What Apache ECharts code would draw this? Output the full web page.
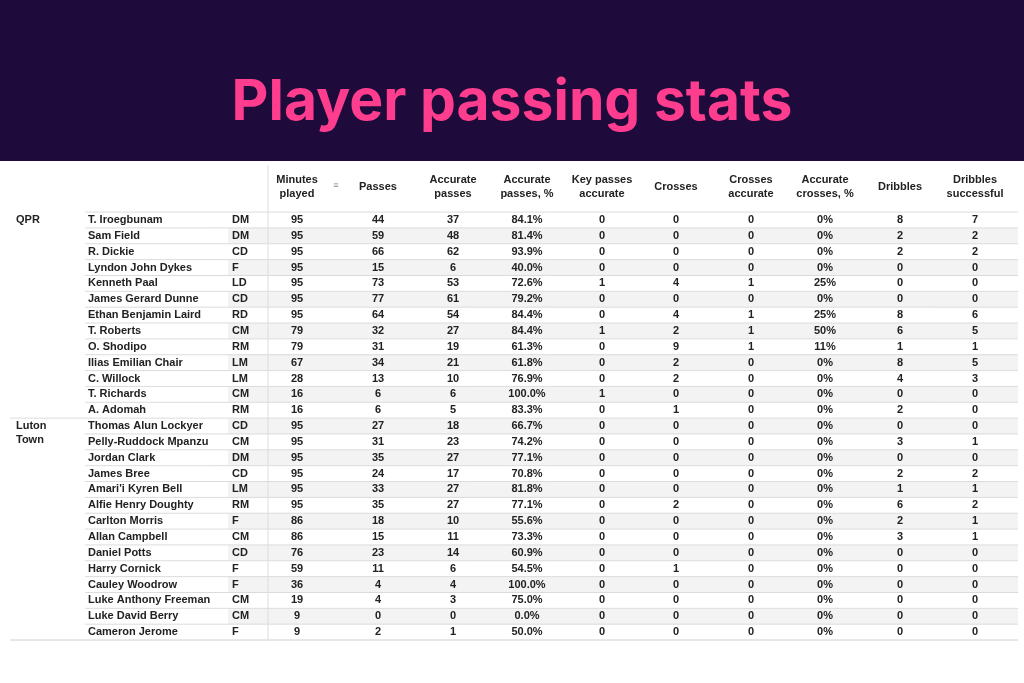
<!DOCTYPE html><html><head><meta charset="utf-8">
<script src="https://cdn.jsdelivr.net/npm/echarts@6/dist/echarts.min.js"></script>
<style>html,body{margin:0;padding:0;background:#fff}#c{width:1024px;height:683px}</style></head><body><div id="c"></div><script>
const title = "Player passing stats";
const headers = ["Minutes\nplayed","Passes","Accurate\npasses","Accurate\npasses, %","Key passes\naccurate","Crosses","Crosses\naccurate","Accurate\ncrosses, %","Dribbles","Dribbles\nsuccessful"];
const teams = [["QPR",0],["Luton\nTown",13]];
const players = ["T. Iroegbunam","Sam Field","R. Dickie","Lyndon John Dykes","Kenneth Paal","James Gerard Dunne","Ethan Benjamin Laird","T. Roberts","O. Shodipo","Ilias Emilian Chair","C. Willock","T. Richards","A. Adomah","Thomas Alun Lockyer","Pelly-Ruddock Mpanzu","Jordan Clark","James Bree","Amari'i Kyren Bell","Alfie Henry Doughty","Carlton Morris","Allan Campbell","Daniel Potts","Harry Cornick","Cauley Woodrow","Luke Anthony Freeman","Luke David Berry","Cameron Jerome"];
const positions = ["DM","DM","CD","F","LD","CD","RD","CM","RM","LM","LM","CM","RM","CD","CM","DM","CD","LM","RM","F","CM","CD","F","F","CM","CM","F"];
const minutes = [95,95,95,95,95,95,95,79,79,67,28,16,16,95,95,95,95,95,95,86,86,76,59,36,19,9,9];
const passes = [44,59,66,15,73,77,64,32,31,34,13,6,6,27,31,35,24,33,35,18,15,23,11,4,4,0,2];
const accPasses = [37,48,62,6,53,61,54,27,19,21,10,6,5,18,23,27,17,27,27,10,11,14,6,4,3,0,1];
const accPassesPct = ["84.1%","81.4%","93.9%","40.0%","72.6%","79.2%","84.4%","84.4%","61.3%","61.8%","76.9%","100.0%","83.3%","66.7%","74.2%","77.1%","70.8%","81.8%","77.1%","55.6%","73.3%","60.9%","54.5%","100.0%","75.0%","0.0%","50.0%"];
const keyPasses = [0,0,0,0,1,0,0,1,0,0,0,1,0,0,0,0,0,0,0,0,0,0,0,0,0,0,0];
const crosses = [0,0,0,0,4,0,4,2,9,2,2,0,1,0,0,0,0,0,2,0,0,0,1,0,0,0,0];
const crossesAcc = [0,0,0,0,1,0,1,1,1,0,0,0,0,0,0,0,0,0,0,0,0,0,0,0,0,0,0];
const accCrossesPct = ["0%","0%","0%","0%","25%","0%","25%","50%","11%","0%","0%","0%","0%","0%","0%","0%","0%","0%","0%","0%","0%","0%","0%","0%","0%","0%","0%"];
const dribbles = [8,2,2,0,0,0,8,6,1,8,4,0,2,0,3,0,2,1,6,2,3,0,0,0,0,0,0];
const dribblesSucc = [7,2,2,0,0,0,6,5,1,5,3,0,0,0,1,0,2,1,2,1,1,0,0,0,0,0,0];

const numCols = [minutes,passes,accPasses,accPassesPct,keyPasses,crosses,crossesAcc,accCrossesPct,dribbles,dribblesSucc];
const colX = [297,378,453,527,602,676,751,825,900,975];
const row0 = 220, rowH = 15.85;
const font = '"Liberation Sans", Arial, sans-serif';

const cells = [];
players.forEach((p,i)=>{
  cells.push([88,i,p,'left']);
  cells.push([232,i,positions[i],'left']);
  numCols.forEach((c,j)=>cells.push([colX[j],i,String(c[i]),'center']));
});
teams.forEach(t=>cells.push([16,t[1],t[0],'left']));

const chart = echarts.init(document.getElementById('c'));
const gfx = [{type:'rect',shape:{x:0,y:0,width:1024,height:161},style:{fill:'#1e0a3b'}},
 {type:'text',x:512,y:103,style:{text:title,fill:'#ff3d8f',font:'bold 57px Inter, "Noto Sans", sans-serif',align:'center',verticalAlign:'middle'}}];
players.forEach((p,i)=>{
  const y=row0+(i-0.5)*rowH;
  if(i%2===1) gfx.push({type:'rect',z:-1,shape:{x:228,y:y,width:790,height:rowH},style:{fill:'#f3f3f3'}});
  gfx.push({type:'line',shape:{x1:i===13?10:85,y1:y,x2:1018,y2:y},style:{stroke:'#dcdcdc',lineWidth:1}});
});
gfx.push({type:'line',shape:{x1:10,y1:row0+26.5*rowH,x2:1018,y2:row0+26.5*rowH},style:{stroke:'#cfcfcf',lineWidth:1}});
gfx.push({type:'line',shape:{x1:268,y1:165,x2:268,y2:row0+26.5*rowH},style:{stroke:'#dddddd',lineWidth:1}});
headers.forEach((h,j)=>gfx.push({type:'text',x:colX[j],y:187,style:{text:h,fill:'#222',font:'bold 11px '+font,align:'center',verticalAlign:'middle',lineHeight:14}}));
gfx.push({type:'text',x:336,y:186,style:{text:'≡',fill:'#888',font:'9px '+font,align:'center',verticalAlign:'middle'}});

chart.setOption({
  animation:false,
  grid:{left:0,right:0,top:0,bottom:0},
  xAxis:{type:'value',min:0,max:1024,show:false},
  yAxis:{type:'value',min:-row0/rowH,max:(683-row0)/rowH,inverse:true,show:false},
  graphic:gfx,
  series:[{type:'custom',data:cells,renderItem:(params,api)=>{
    const pt=api.coord([api.value(0),api.value(1)]);
    const d=cells[params.dataIndex];
    const ml=d[2].includes('\n');
    return {type:'text',x:pt[0],y:ml?pt[1]-7:pt[1],style:{text:d[2],fill:'#222',font:'bold 11px '+font,align:d[3],verticalAlign:ml?'top':'middle',lineHeight:14}};
  }}]
});
</script></body></html>
